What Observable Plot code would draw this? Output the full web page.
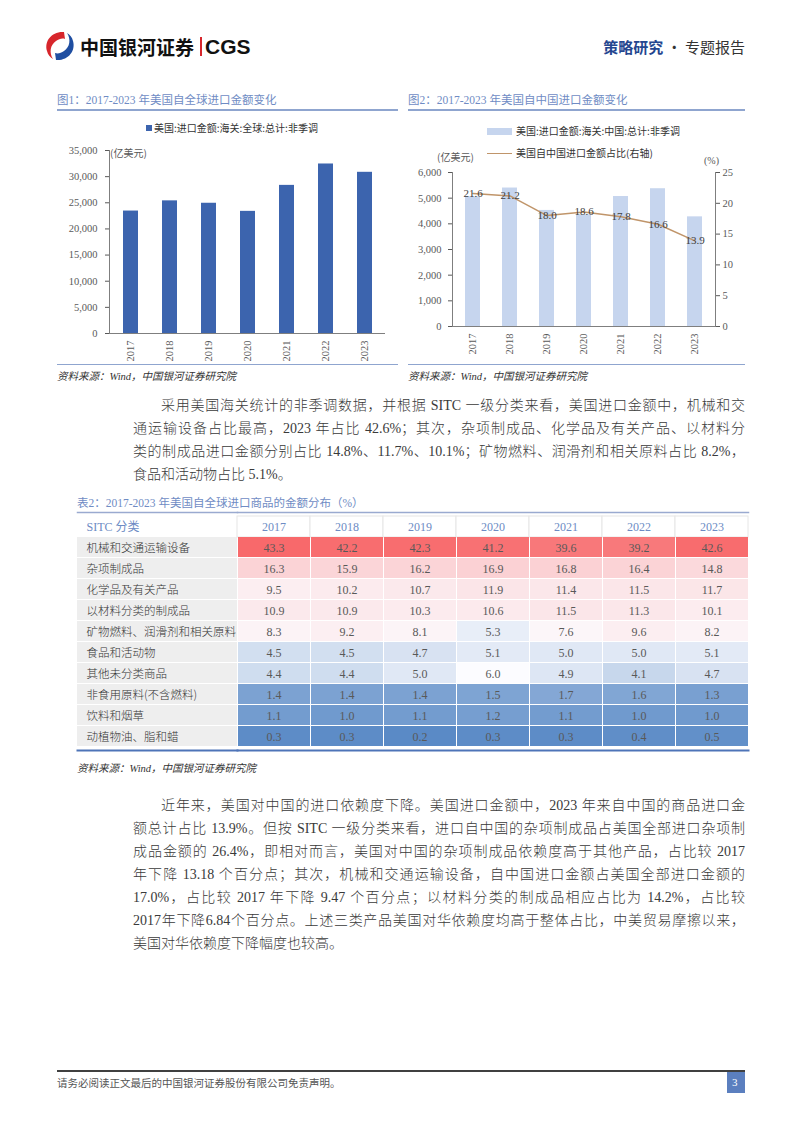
<!DOCTYPE html>
<html lang="zh-CN">
<head>
<meta charset="utf-8">
<script src="https://cdn.jsdelivr.net/npm/d3@7"></script>
<script src="https://cdn.jsdelivr.net/npm/@observablehq/plot@0.6"></script>
<style>
html,body{margin:0;padding:0;background:#fff;}
#page{position:relative;width:802px;height:1133px;overflow:hidden;background:#fff;}
#page svg{position:absolute;overflow:visible;}
.pline{position:absolute;text-align:justify;text-align-last:justify;}
.pline.last{text-align-last:left;}
</style>
</head>
<body>
<div id="page"></div>
<script>
// ---------- data ----------
const years = ["2017", "2018", "2019", "2020", "2021", "2022", "2023"];
const globalImports = [23420, 25370, 24910, 23360, 28330, 32420, 30830];   // 亿美元
const chinaImports = [5056, 5395, 4522, 4354, 5064, 5368, 4272];           // 亿美元
const chinaShare = [21.6, 21.2, 18.0, 18.6, 17.8, 16.6, 13.9];             // %
const ticksGlobal = [0, 5000, 10000, 15000, 20000, 25000, 30000, 35000];
const ticksChina = [0, 1000, 2000, 3000, 4000, 5000, 6000];
const ticksShare = [0, 5, 10, 15, 20, 25];

const sitcHeader = "SITC 分类";
const sitcCategories = ["机械和交通运输设备", "杂项制成品", "化学品及有关产品", "以材料分类的制成品",
  "矿物燃料、润滑剂和相关原料", "食品和活动物", "其他未分类商品", "非食用原料(不含燃料)", "饮料和烟草", "动植物油、脂和蜡"];
const sitcMachinery = [43.3, 42.2, 42.3, 41.2, 39.6, 39.2, 42.6];
const sitcMisc = [16.3, 15.9, 16.2, 16.9, 16.8, 16.4, 14.8];
const sitcChemicals = [9.5, 10.2, 10.7, 11.9, 11.4, 11.5, 11.7];
const sitcMaterials = [10.9, 10.9, 10.3, 10.6, 11.5, 11.3, 10.1];
const sitcFuels = [8.3, 9.2, 8.1, 5.3, 7.6, 9.6, 8.2];
const sitcFood = [4.5, 4.5, 4.7, 5.1, 5.0, 5.0, 5.1];
const sitcOther = [4.4, 4.4, 5.0, 6.0, 4.9, 4.1, 4.7];
const sitcCrude = [1.4, 1.4, 1.4, 1.5, 1.7, 1.6, 1.3];
const sitcBeverage = [1.1, 1.0, 1.1, 1.2, 1.1, 1.0, 1.0];
const sitcOils = [0.3, 0.3, 0.2, 0.3, 0.3, 0.4, 0.5];
const sitcValues = [sitcMachinery, sitcMisc, sitcChemicals, sitcMaterials, sitcFuels, sitcFood, sitcOther, sitcCrude, sitcBeverage, sitcOils];

const para1 = [
  "采用美国海关统计的非季调数据，并根据 SITC 一级分类来看，美国进口金额中，机械和交",
  "通运输设备占比最高，2023 年占比 42.6%；其次，杂项制成品、化学品及有关产品、以材料分",
  "类的制成品进口金额分别占比 14.8%、11.7%、10.1%；矿物燃料、润滑剂和相关原料占比 8.2%，",
  "食品和活动物占比 5.1%。"
];
const para2 = [
  "近年来，美国对中国的进口依赖度下降。美国进口金额中，2023 年来自中国的商品进口金",
  "额总计占比 13.9%。但按 SITC 一级分类来看，进口自中国的杂项制成品占美国全部进口杂项制",
  "成品金额的 26.4%，即相对而言，美国对中国的杂项制成品依赖度高于其他产品，占比较 2017",
  "年下降 13.18 个百分点；其次，机械和交通运输设备，自中国进口金额占美国全部进口金额的",
  "17.0%，占比较 2017 年下降 9.47 个百分点；以材料分类的制成品相应占比为 14.2%，占比较",
  "2017年下降6.84个百分点。上述三类产品美国对华依赖度均高于整体占比，中美贸易摩擦以来，",
  "美国对华依赖度下降幅度也较高。"
];

// ---------- helpers ----------
const FONT = '"Liberation Serif","Noto Sans CJK SC",serif';
const SANS = '"Noto Sans CJK SC","Liberation Sans",sans-serif';
const page = document.getElementById("page");

function txt(str, x, cy, o = {}) {
  const fs = o.size || 12, lh = Math.round(fs * 1.4);
  const d = document.createElement("div");
  if (o.html) d.innerHTML = str; else d.textContent = str;
  Object.assign(d.style, {
    position: "absolute", top: (cy - lh / 2) + "px", fontSize: fs + "px", lineHeight: lh + "px",
    whiteSpace: "nowrap", color: o.color || "#333", fontFamily: o.font || FONT,
    fontWeight: o.weight || "normal", fontStyle: o.italic ? "italic" : "normal"
  });
  if (o.right !== undefined) d.style.right = (802 - o.right) + "px"; else d.style.left = x + "px";
  page.appendChild(d);
  return d;
}
function box(x, y, w, h, bg) {
  const d = document.createElement("div");
  Object.assign(d.style, {position: "absolute", left: x + "px", top: y + "px", width: w + "px", height: h + "px", background: bg});
  page.appendChild(d);
  return d;
}
function place(svg, x, y) { svg.style.left = x + "px"; svg.style.top = y + "px"; page.appendChild(svg); }
function paragraph(lines, x, cy0, width, lh, indent) {
  lines.forEach((s, i) => {
    const d = document.createElement("div");
    d.className = "pline" + (i === lines.length - 1 ? " last" : "");
    d.textContent = s;
    const ind = i === 0 ? indent : 0;
    Object.assign(d.style, {left: (x + ind) + "px", top: (cy0 + i * lh - lh / 2) + "px", width: (width - ind) + "px",
      fontSize: "14px", lineHeight: lh + "px", height: lh + "px", color: "#3a3a3a", fontFamily: FONT, fontWeight: "300"});
    page.appendChild(d);
  });
}

// ---------- header ----------
const logo = document.createElementNS("http://www.w3.org/2000/svg", "svg");
logo.setAttribute("width", "32"); logo.setAttribute("height", "30"); logo.setAttribute("viewBox", "0 0 32 30");
logo.innerHTML = '<path d="M20 1 C8 0 0 10 3 20 C4 24 6 26 9 28 C5 22 6 14 12 10 C15 8 18 7 21 8 Z" fill="#d7262c"/>' +
  '<path d="M12 29 C24 30 32 20 29 10 C28 6 26 4 23 2 C27 8 26 16 20 20 C17 22 14 23 11 22 Z" fill="#1f4ea1"/>';
logo.style.position = "absolute"; logo.style.left = "44px"; logo.style.top = "31px";
page.appendChild(logo);
txt("中国银河证券", 80, 46, {size: 19, weight: "bold", color: "#111", font: SANS});
box(200, 37, 2, 19, "#d7262c");
txt("CGS", 205, 46, {size: 21, weight: "bold", color: "#111", font: '"Liberation Sans",sans-serif'});
txt('<span style="color:#24468f;font-weight:bold">策略研究</span> · 专题报告', 0, 46, {html: true, size: 15, right: 745, color: "#333", font: SANS});

// ---------- chart titles ----------
const titleColor = "#6f8cc4", lineColor = "#8fa5cf";
txt("图1：2017-2023 年美国自全球进口金额变化", 57, 100, {size: 11.5, color: titleColor});
box(57, 109, 341, 1.5, lineColor);
txt("图2：2017-2023 年美国自中国进口金额变化", 408, 100, {size: 11.5, color: titleColor});
box(408, 109, 337, 1.5, lineColor);

// ---------- chart 1 ----------
const data1 = years.map((year, i) => ({year, value: globalImports[i]}));
const axisCol = "#7f7f7f";
const chart1 = Plot.plot({
  width: 345, height: 230, marginTop: 10, marginLeft: 59, marginRight: 10, marginBottom: 37,
  style: {fontFamily: FONT, fontSize: "10.5px", color: "#595959", background: "transparent"},
  x: {type: "band", domain: years, paddingInner: 0.62, paddingOuter: 0.31, label: null},
  y: {domain: [0, 35000], label: null},
  marks: [
    Plot.barY(data1, {x: "year", y: "value", fill: "#3c64ae"}),
    Plot.axisY(ticksGlobal, {tickFormat: d3.format(","), tickSize: 4, tickPadding: 8, label: null}),
    Plot.axisX({tickRotate: -90, tickSize: 0, tickPadding: 7, label: null}),
    Plot.ruleY([0], {stroke: axisCol}),
    Plot.frame({anchor: "left", stroke: axisCol})
  ]
});
place(chart1, 50, 140);
box(146, 125, 6, 6, "#3c64ae");
txt("美国:进口金额:海关:全球:总计:非季调", 154, 128, {size: 10, font: SANS, color: "#333"});
txt("(亿美元)", 110, 153, {size: 10, font: SANS, color: "#595959"});
box(57, 364, 341, 1, lineColor);
txt("资料来源：Wind，中国银河证券研究院", 57, 376, {size: 10.5, italic: true, color: "#333"});

// ---------- chart 2 ----------
const pctToLeft = 6000 / 25;
const data2 = years.map((year, i) => ({year, value: chinaImports[i], share: chinaShare[i]}));
const lineCol = "#c0956a";
const chart2 = Plot.plot({
  width: 345, height: 202, marginTop: 12, marginLeft: 52, marginRight: 30, marginBottom: 36,
  style: {fontFamily: FONT, fontSize: "10.5px", color: "#595959", background: "transparent"},
  x: {type: "band", domain: years, paddingInner: 0.6, paddingOuter: 0.3, label: null},
  y: {domain: [0, 6000], label: null},
  marks: [
    Plot.barY(data2, {x: "year", y: "value", fill: "#c6d5ee"}),
    Plot.lineY(data2, {x: "year", y: d => d.share * pctToLeft, stroke: lineCol, strokeWidth: 1.5}),
    Plot.text(data2, {x: "year", y: d => d.share * pctToLeft, text: d => d.share.toFixed(1), fill: "#404040", fontSize: 11}),
    Plot.axisY(ticksChina, {tickFormat: d3.format(","), tickSize: 4, tickPadding: 7, label: null}),
    Plot.axisY(ticksShare.map(v => v * pctToLeft), {anchor: "right", tickFormat: d => d / pctToLeft, tickSize: 4, tickPadding: 3, label: null}),
    Plot.axisX({tickRotate: -90, tickSize: 0, tickPadding: 7, label: null}),
    Plot.ruleY([0], {stroke: axisCol}),
    Plot.frame({anchor: "left", stroke: axisCol}),
    Plot.frame({anchor: "right", stroke: axisCol})
  ]
});
place(chart2, 400, 160);
box(487, 128, 25, 7, "#c6d5ee");
txt("美国:进口金额:海关:中国:总计:非季调", 516, 131, {size: 10, font: SANS, color: "#333"});
box(487, 152.5, 25, 1.5, lineCol);
txt("美国自中国进口金额占比(右轴)", 516, 153, {size: 10, font: SANS, color: "#333"});
txt("(亿美元)", 437, 157, {size: 10, font: SANS, color: "#595959"});
txt("(%)", 704, 161, {size: 10, color: "#595959"});
box(408, 364, 337, 1, lineColor);
txt("资料来源：Wind，中国银河证券研究院", 408, 376, {size: 10.5, italic: true, color: "#333"});

// ---------- paragraph 1 ----------
paragraph(para1, 133, 405, 612, 23, 28);

// ---------- table ----------
txt("表2：2017-2023 年美国自全球进口商品的金额分布（%）", 77, 503, {size: 11.5, color: titleColor});
const tableRows = [sitcHeader, ...sitcCategories];
const cells = sitcCategories.flatMap((cat, i) => years.map((year, j) => ({cat, year, value: sitcValues[i][j]})));
const headColor = "#6d8bc4", topLine = "#9aaad0", bottomLine = "#4e74b8";
const tStyle = {fontFamily: FONT, fontSize: "12px", color: "#333", background: "transparent"};

const labelPlot = Plot.plot({
  width: 160, height: 238, margin: 0, style: tStyle,
  y: {type: "band", domain: tableRows, padding: 0, axis: null},
  marks: [
    Plot.cell(sitcCategories, {y: d => d, fill: "#eeeeee", insetBottom: 1}),
    Plot.text([sitcHeader], {y: d => d, text: d => d, frameAnchor: "left", dx: 9, textAnchor: "start", fill: headColor, fontSize: 12}),
    Plot.text(sitcCategories, {y: d => d, text: d => d, frameAnchor: "left", dx: 9, textAnchor: "start", fill: "#333", fontSize: 11.5, fontFamily: SANS, fontWeight: 300}),
    Plot.frame({anchor: "top", stroke: topLine, strokeWidth: 1.5}),
    Plot.frame({anchor: "bottom", stroke: bottomLine, strokeWidth: 2})
  ]
});
place(labelPlot, 77, 512);

const valuePlot = Plot.plot({
  width: 511, height: 238, margin: 0, style: tStyle,
  x: {type: "band", domain: years, padding: 0, axis: null},
  y: {type: "band", domain: tableRows, padding: 0, axis: null},
  color: {type: "linear", domain: [0.2, 6.0, 43.3], range: ["#5a8ac6", "#fcfcff", "#f8696b"], interpolate: "rgb"},
  marks: [
    Plot.cell(years, {x: d => d, y: () => sitcHeader, fill: "white", stroke: "#e6e6e6"}),
    Plot.cell(cells, {x: "year", y: "cat", fill: "value", insetLeft: 1, insetBottom: 1}),
    Plot.text(cells, {x: "year", y: "cat", text: d => d.value.toFixed(1), fill: "#595959", fontSize: 12}),
    Plot.text(years, {x: d => d, y: () => sitcHeader, text: d => d, fill: headColor, fontSize: 12}),
    Plot.frame({anchor: "top", stroke: topLine, strokeWidth: 1.5}),
    Plot.frame({anchor: "bottom", stroke: bottomLine, strokeWidth: 2})
  ]
});
place(valuePlot, 237, 512);
txt("资料来源：Wind，中国银河证券研究院", 77, 768, {size: 10.5, italic: true, color: "#333"});

// ---------- paragraph 2 ----------
paragraph(para2, 133, 805, 612, 23, 28);

// ---------- footer ----------
box(57, 1070, 688, 1.5, "#404040");
txt("请务必阅读正文最后的中国银河证券股份有限公司免责声明。", 57, 1082, {size: 10.5, color: "#555", font: SANS});
box(727, 1071.5, 18, 21, "#5b7fbf");
txt("3", 732, 1082, {size: 11, color: "#fff"});
</script>
</body>
</html>
